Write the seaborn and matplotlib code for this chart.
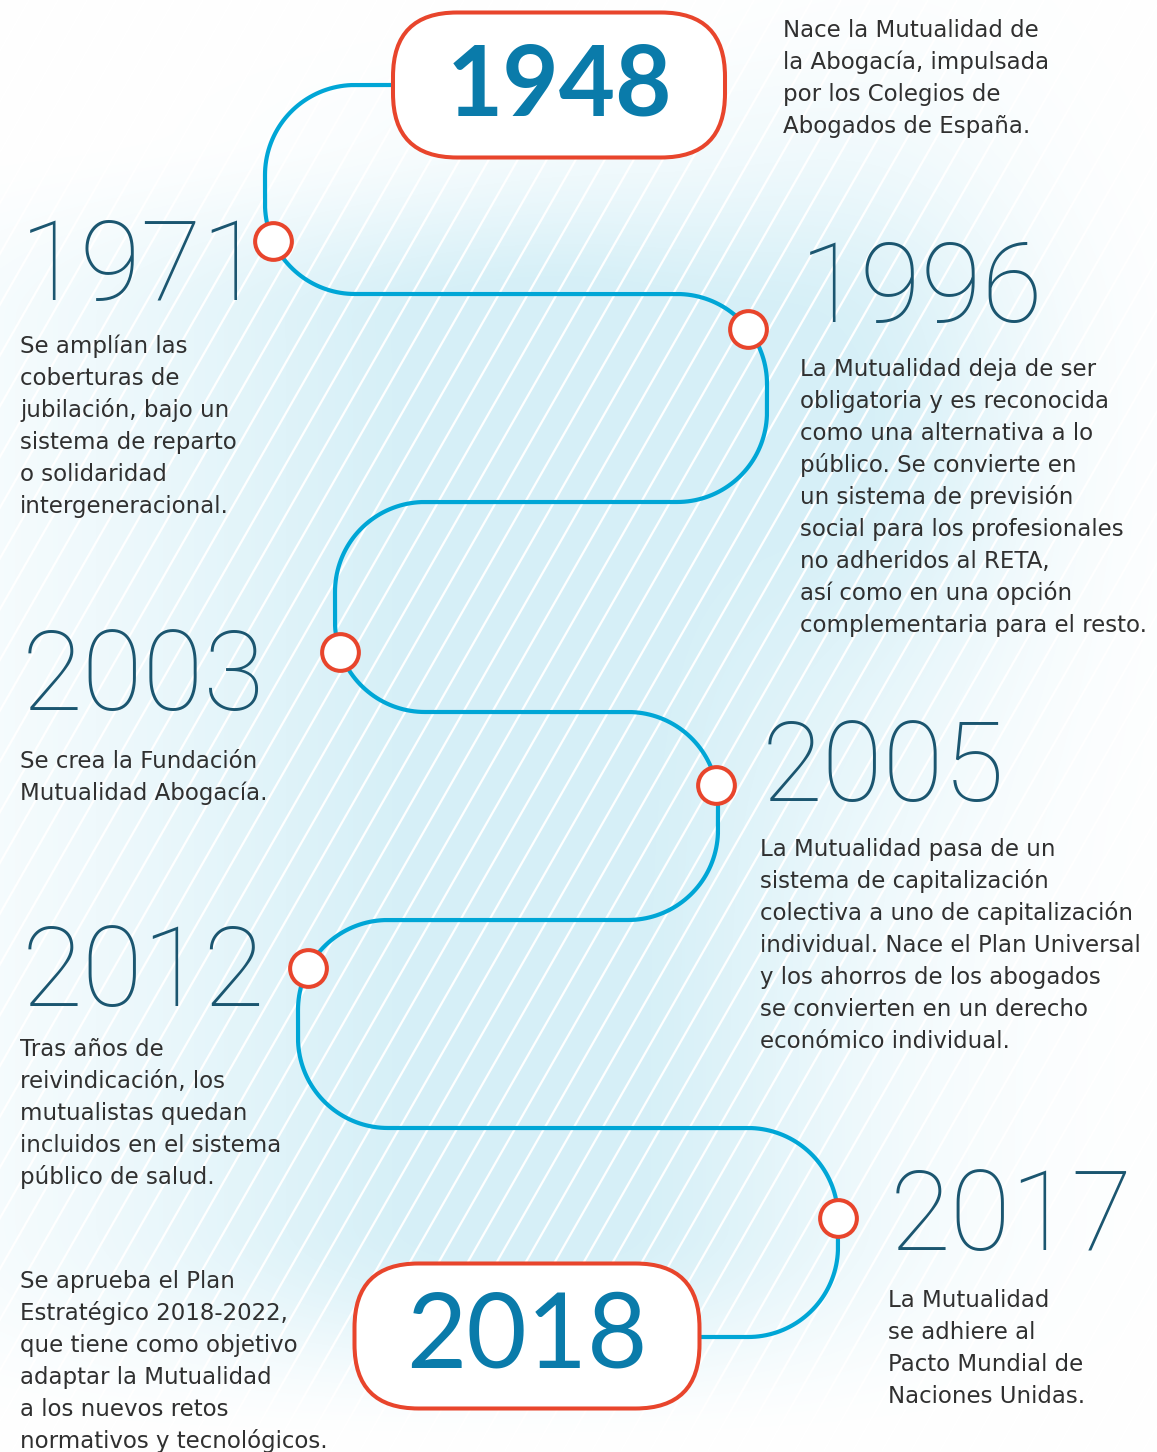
import numpy as np
import pandas as pd
import matplotlib.pyplot as plt
import seaborn as sns
from matplotlib.patches import FancyBboxPatch
from matplotlib.collections import LineCollection

sns.set_theme(style="white")
plt.rcParams['font.family'] = ['DejaVu Sans']

# -------------------------------
# Data
# -------------------------------
years = ["1948", "1971", "1996", "2003", "2005", "2012", "2017", "2018"]
highlight = [True, False, False, False, False, False, False, True]
descriptions = [
    ["Nace la Mutualidad de", "la Abogacía, impulsada", "por los Colegios de",
     "Abogados de España."],
    ["Se amplían las", "coberturas de", "jubilación, bajo un", "sistema de reparto",
     "o solidaridad", "intergeneracional."],
    ["La Mutualidad deja de ser", "obligatoria y es reconocida", "como una alternativa a lo",
     "público. Se convierte en", "un sistema de previsión", "social para los profesionales",
     "no adheridos al RETA,", "así como en una opción", "complementaria para el resto."],
    ["Se crea la Fundación", "Mutualidad Abogacía."],
    ["La Mutualidad pasa de un", "sistema de capitalización", "colectiva a uno de capitalización",
     "individual. Nace el Plan Universal", "y los ahorros de los abogados",
     "se convierten en un derecho", "económico individual."],
    ["Tras años de", "reivindicación, los", "mutualistas quedan", "incluidos en el sistema",
     "público de salud."],
    ["La Mutualidad", "se adhiere al", "Pacto Mundial de", "Naciones Unidas."],
    ["Se aprueba el Plan", "Estratégico 2018-2022,", "que tiene como objetivo",
     "adaptar la Mutualidad", "a los nuevos retos", "normativos y tecnológicos."],
]

# -------------------------------
# Layout (pixel space, y downwards)
# -------------------------------
W, H = 1157, 1452
corners = [(393, 85), (265, 85), (265, 294), (767, 294), (767, 502), (335, 502),
           (335, 712), (718, 712), (718, 920), (298, 920), (298, 1128), (838, 1128),
           (838, 1337), (700, 1337)]
radius = 90
# node sits on the arc of a corner, at a fraction of that arc
node_corner = [2, 3, 6, 7, 9, 11]
node_frac = [0.27, 0.58, 0.22, 0.88, 0.69, 1.0]

year_xy = [None, (20, 300), (800, 322), (22, 710), (762, 801), (22, 1006), (890, 1250), None]
box_xy = [(559, 85), None, None, None, None, None, None, (527, 1336)]
desc_xy = [(783, 37), (20, 353), (800, 376), (20, 768), (760, 856), (20, 1056),
           (888, 1307), (20, 1288)]
line_step = 32

BLUE = "#00A6D6"
RED = "#E8452C"
DARK = "#1B5670"
BOLD = "#0A7BAA"
TEXT = "#303030"
TINT = np.array([0.84, 0.94, 0.97])


def rounded_path(pts, r, n=40):
    xs, ys = [pts[0][0]], [pts[0][1]]
    arcs = {}
    for i in range(1, len(pts) - 1):
        p0, p1, p2 = (np.array(p, float) for p in (pts[i - 1], pts[i], pts[i + 1]))
        d1 = (p1 - p0) / np.linalg.norm(p1 - p0)
        d2 = (p2 - p1) / np.linalg.norm(p2 - p1)
        a = p1 - d1 * r
        b = p1 + d2 * r
        c = a + d2 * r
        a0 = np.arctan2(a[1] - c[1], a[0] - c[0])
        a1 = np.arctan2(b[1] - c[1], b[0] - c[0])
        diff = (a1 - a0 + np.pi) % (2 * np.pi) - np.pi
        ang = a0 + diff * np.linspace(0, 1, n)
        xs += list(c[0] + r * np.cos(ang))
        ys += list(c[1] + r * np.sin(ang))
        arcs[i] = (c, a0, diff)
    xs.append(pts[-1][0])
    ys.append(pts[-1][1])
    return np.array(xs), np.array(ys), arcs


def smooth(t):
    t = np.clip(t, 0, 1)
    return t * t * (3 - 2 * t)


px, py, arcs = rounded_path(corners, radius)
nodes = []
for ci, f in zip(node_corner, node_frac):
    c, a0, diff = arcs[ci]
    nodes.append((c[0] + radius * np.cos(a0 + diff * f), c[1] + radius * np.sin(a0 + diff * f)))
node_df = pd.DataFrame(nodes, columns=["x", "y"])
path_df = pd.DataFrame({"x": px, "y": py})

fig = plt.figure(figsize=(W / 100, H / 100), dpi=100)
ax = fig.add_axes([0, 0, 1, 1])

# -------------------------------
# Background: soft blue cloud + white diagonal stripes
# -------------------------------
gx, gy = np.meshgrid(np.arange(0, W, 2), np.arange(0, H, 2))
hprof = np.where(gx < 540, np.exp(-(gx - 540) ** 2 / (2 * 310 ** 2)),
                 np.exp(-(gx - 540) ** 2 / (2 * 230 ** 2)))
vprof = smooth((gy - 130) / 190) * smooth((H - gy) / 230)
alpha = 1.1 * hprof * vprof
alpha += 0.6 * np.exp(-((gx - 880) ** 2 / (2 * 120 ** 2) + (gy - 420) ** 2 / (2 * 200 ** 2)))
alpha += 0.25 * np.exp(-((gx - 600) ** 2 / (2 * 200 ** 2) + (gy - 150) ** 2 / (2 * 60 ** 2)))
alpha = np.clip(alpha, 0, 1)
img = 1 - alpha[..., None] * (1 - TINT)
ax.imshow(img, extent=(0, W, H, 0), interpolation="bilinear", zorder=0)

slope = 1.75
offs = np.arange(-H / slope, W + 30, 29)
segs = [[(o, H), (o + H / slope, 0)] for o in offs]
ax.add_collection(LineCollection(segs, colors="white", linewidths=1.6, zorder=1))

# -------------------------------
# Timeline path and nodes
# -------------------------------
sns.lineplot(data=path_df, x="x", y="y", sort=False, estimator=None, color=BLUE,
             linewidth=3.0, ax=ax, zorder=3)
sns.scatterplot(data=node_df, x="x", y="y", s=700, color="white", edgecolor=RED,
                linewidth=2.9, ax=ax, zorder=5)

# -------------------------------
# Years and descriptions
# -------------------------------
for i, year in enumerate(years):
    if highlight[i]:
        cx, cy = box_xy[i]
        bw, bh = (332, 145) if i == 0 else (345, 145)
        box = FancyBboxPatch((cx - bw / 2, cy - bh / 2), bw, bh,
                             boxstyle="round,pad=0,rounding_size=64",
                             facecolor="white", edgecolor=RED, linewidth=2.9, zorder=4)
        ax.add_patch(box)
        ax.text(cx, cy + 2, year, ha="center", va="center", fontsize=70 if i == 0 else 75,
                family=["Lato", "DejaVu Sans"], fontweight="bold" if i == 0 else "normal",
                color=BOLD, zorder=6)
    else:
        x, y = year_xy[i]
        ax.text(x, y, year, ha="left", va="baseline", fontsize=80,
                family=["Roboto", "DejaVu Sans"], fontweight=100, color=DARK, zorder=6)
    dx, dy = desc_xy[i]
    for k, line in enumerate(descriptions[i]):
        ax.text(dx, dy + k * line_step, line, ha="left", va="baseline", fontsize=16.5,
                color=TEXT, zorder=6)

ax.set_xlim(0, W)
ax.set_ylim(H, 0)
ax.axis("off")
fig.savefig("out.png", dpi=100)
